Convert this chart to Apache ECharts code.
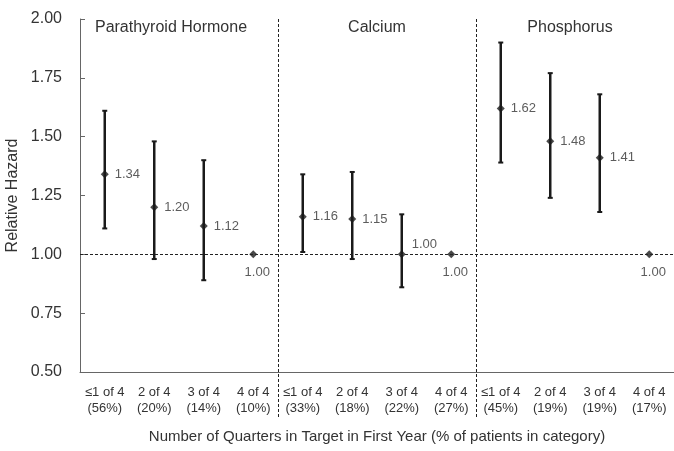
<!DOCTYPE html>
<html><head><meta charset="utf-8">
<script src="https://cdn.jsdelivr.net/npm/echarts@6/dist/echarts.min.js"></script>
<style>html,body{margin:0;padding:0;background:#fff}#c{width:674px;height:451px}</style>
</head><body><div id="c"></div>
<script>
const groups = ['Parathyroid Hormone', 'Calcium', 'Phosphorus'];
const quarters = ['≤1 of 4', '2 of 4', '3 of 4', '4 of 4'];
const shares = ['56%', '20%', '14%', '10%', '33%', '18%', '22%', '27%', '45%', '19%', '19%', '17%'];
const hazard = [1.34, 1.20, 1.12, 1.00, 1.16, 1.15, 1.00, 1.00, 1.62, 1.48, 1.41, 1.00];
const lower = [1.11, 0.98, 0.89, null, 1.01, 0.98, 0.86, null, 1.39, 1.24, 1.18, null];
const upper = [1.61, 1.48, 1.40, null, 1.34, 1.35, 1.17, null, 1.90, 1.77, 1.68, null];
const yTicks = { min: 0.5, max: 2.0, step: 0.25 };
const xTitle = 'Number of Quarters in Target in First Year (% of patients in category)';
const yTitle = 'Relative Hazard';

const categories = shares.map((s, i) => quarters[i % 4] + '\n(' + s + ')');
const font = '"Liberation Sans", Arial, sans-serif';
const ink = '#1a1a1a';
const textCol = '#333';

const chart = echarts.init(document.getElementById('c'));

const ciData = [];
hazard.forEach((v, i) => { if (lower[i] != null) ciData.push([i, lower[i], upper[i]]); });

const pointData = hazard.map((v, i) => {
  let label;
  if (i % 4 === 3) {
    label = { position: 'bottom', distance: 8, offset: [4, 0] };
  } else if (v === 1.0) {
    label = { position: 'right', distance: 6, offset: [0, -10] };
  } else {
    label = { position: 'right', distance: 6 };
  }
  return { value: v, label: label };
});

chart.setOption({
  animation: false,
  textStyle: { fontFamily: font },
  grid: { left: 80, right: 0, top: 19, bottom: 79, containLabel: false, outerBoundsMode: 'none' },
  xAxis: {
    type: 'category', data: categories, boundaryGap: true,
    axisLine: { lineStyle: { color: '#666', width: 1 } },
    axisTick: { show: false },
    axisLabel: { interval: 0, fontSize: 13, color: textCol, fontFamily: font, lineHeight: 15.5, margin: 13 },
    splitLine: { show: false },
    name: xTitle, nameLocation: 'middle', nameGap: 57, nameMoveOverlap: false,
    nameTextStyle: { fontSize: 15, color: textCol, fontFamily: font }
  },
  yAxis: {
    type: 'value', min: yTicks.min, max: yTicks.max, interval: yTicks.step,
    axisLine: { show: true, lineStyle: { color: '#666', width: 1 } },
    axisTick: { show: true, inside: true, length: 5, lineStyle: { color: '#666' } },
    axisLabel: { formatter: v => v.toFixed(2), fontSize: 16, color: textCol, fontFamily: font, margin: 18 },
    splitLine: { show: false },
    name: yTitle, nameLocation: 'middle', nameGap: 59, nameMoveOverlap: false,
    nameTextStyle: { fontSize: 16, color: textCol, fontFamily: font }
  },
  series: [
    {
      type: 'custom', data: ciData, z: 2,
      renderItem: function (params, api) {
        const idx = api.value(0);
        const lo = api.coord([idx, api.value(1)]);
        const hi = api.coord([idx, api.value(2)]);
        const cw = 2.5;
        const st = { stroke: ink, lineWidth: 2.5 };
        return {
          type: 'group',
          children: [
            { type: 'line', shape: { x1: lo[0], y1: lo[1], x2: hi[0], y2: hi[1] }, style: st },
            { type: 'line', shape: { x1: hi[0] - cw, y1: hi[1], x2: hi[0] + cw, y2: hi[1] }, style: { stroke: ink, lineWidth: 2 } },
            { type: 'line', shape: { x1: lo[0] - cw, y1: lo[1], x2: lo[0] + cw, y2: lo[1] }, style: { stroke: ink, lineWidth: 2 } }
          ]
        };
      }
    },
    {
      type: 'scatter', data: pointData, symbol: 'diamond', symbolSize: 8, z: 3,
      itemStyle: { color: ink },
      label: { show: true, formatter: p => p.value.toFixed(2), fontSize: 13, color: textCol, fontFamily: font },
      markLine: {
        silent: true, symbol: 'none', label: { show: false },
        lineStyle: { color: '#222', type: [3, 2], width: 1 },
        data: [{ yAxis: 1.0 }]
      }
    }
  ]
});

function overlay() {
  const px = i => chart.convertToPixel({ xAxisIndex: 0 }, i);
  const yTop = chart.convertToPixel({ yAxisIndex: 0 }, yTicks.max);
  const yBot = chart.convertToPixel({ yAxisIndex: 0 }, yTicks.min);
  const els = [];
  for (let g = 1; g < groups.length; g++) {
    const x = Math.round((px(4 * g - 1) + px(4 * g)) / 2) + 0.5;
    els.push({ type: 'line', shape: { x1: x, y1: yTop, x2: x, y2: yBot + 45 }, style: { stroke: '#222', lineWidth: 1, lineDash: [3, 2] }, z: 1 });
  }
  const dx = [-8, 0, -5];
  groups.forEach((name, g) => {
    const cx = (px(4 * g) + px(4 * g + 3)) / 2 + dx[g];
    els.push({ type: 'text', x: cx, y: yTop + 9, style: { text: name, fill: textCol, font: '16px ' + font, align: 'center', verticalAlign: 'middle' }, z: 5 });
  });
  chart.setOption({ graphic: { elements: els } });
}
overlay();
</script>
</body></html>
